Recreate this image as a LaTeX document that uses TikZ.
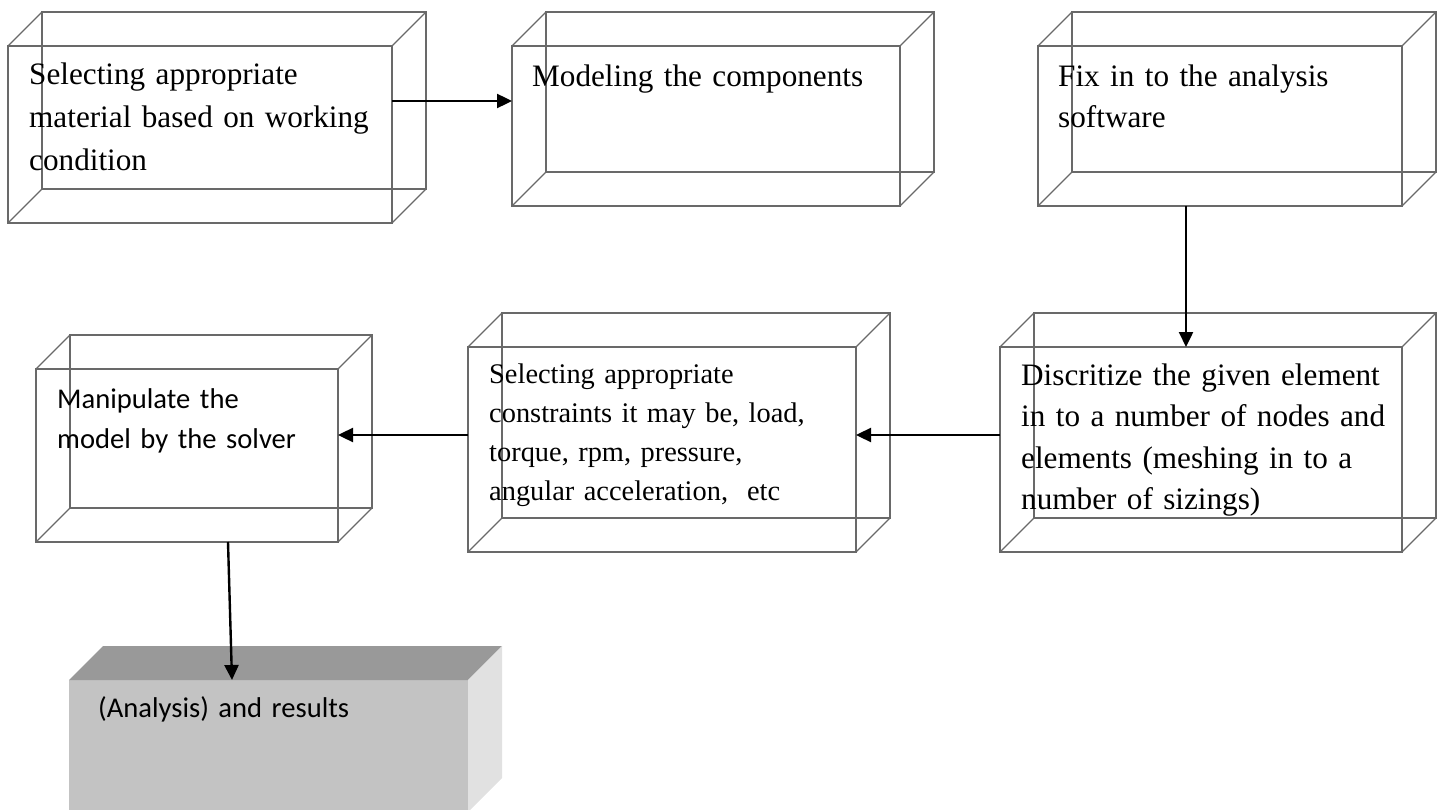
\documentclass[tikz,border=0pt]{standalone}
\usepackage{fontspec}
\setmainfont{Liberation Serif}
\newfontfamily\calibfont{Carlito}
\usetikzlibrary{positioning,arrows.meta}
\definecolor{edge}{RGB}{105,105,105}
\definecolor{resfront}{RGB}{195,195,195}
\definecolor{restop}{RGB}{153,153,153}
\definecolor{resside}{RGB}{225,225,225}

\begin{document}
\begin{tikzpicture}[x=1pt,y=-1pt,>={Triangle[length=15pt,width=14pt]},
  cube/.style={draw=edge,line width=1.2pt,anchor=north west,inner sep=0pt,outer sep=0pt},
  back/.style={draw=edge,line width=1.2pt},
  txt/.style={anchor=base west,inner sep=0pt,align=left,text width=#1},
  txt/.default=380pt,
  flow/.style={->,line width=2.4pt}]
  \useasboundingbox (0,0) rectangle (1442,810);
  % front faces
  \node[cube,minimum width=384pt,minimum height=177pt] (sel) at (8,46) {};
  \node[cube,minimum width=388pt,minimum height=160pt] (mod) at (512,46) {};
  \node[cube,minimum width=364pt,minimum height=160pt] (fix) at (1038,46) {};
  \node[cube,minimum width=402pt,minimum height=205pt] (dis) at (1000,347) {};
  \node[cube,minimum width=388pt,minimum height=205pt] (con) at (468,347) {};
  \node[cube,minimum width=302pt,minimum height=173pt] (man) at (36,369) {};
  % back faces and depth edges
  \foreach \b in {sel,mod,fix,dis,con,man}{
    \draw[back] ([shift={(34,-34)}]\b.north west) rectangle ([shift={(34,-34)}]\b.south east);
    \draw[back] (\b.north west) -- ++(34,-34) (\b.north east) -- ++(34,-34)
                (\b.south west) -- ++(34,-34) (\b.south east) -- ++(34,-34);
  }
  % shaded result box
  \node[anchor=north west,inner sep=0pt,outer sep=0pt,fill=resfront,minimum width=399pt,minimum height=132pt] (res) at (69,680) {};
  \fill[restop] (res.north west) -- ++(34,-34) -- ([shift={(34,-34)}]res.north east) -- (res.north east) -- cycle;
  \fill[resside] (res.north east) -- ++(34,-34) -- ([shift={(34,-34)}]res.south east) -- (res.south east) -- cycle;
  % texts
  \node[txt,font=\fontsize{31.2}{43}\selectfont] (selT) at (29,85) {Selecting appropriate\\material based on working\\condition};
  \node[txt,font=\fontsize{31.2}{43}\selectfont] (modT) at (532,87) {Modeling the components};
  \node[txt,font=\fontsize{31.2}{41}\selectfont] (fixT) at (1058,87) {Fix in to the analysis\\software};
  \node[txt,font=\fontsize{31.2}{41.5}\selectfont] (disT) at (1021,385) {Discritize the given element\\in to a number of nodes and\\elements (meshing in to a\\number of sizings)};
  \node[txt,font=\fontsize{28.4}{39}\selectfont] (conT) at (489,383) {Selecting appropriate\\constraints it may be, load,\\torque, rpm, pressure,\\angular acceleration,\ \ etc};
  \node[txt,font=\calibfont\fontsize{28.6}{40}\selectfont] (manT) at (57,408) {Manipulate the\\model by the solver};
  \node[txt,font=\calibfont\fontsize{28.6}{40}\selectfont] (resT) at (98,717) {(Analysis) and results};
  % connectors
  \draw[flow] ([yshift=33.5pt]sel.east) -- ([yshift=33.5pt]sel.east -| mod.west);
  \draw[flow] ([xshift=-34pt]fix.south) -- ([xshift=-34pt]fix.south |- dis.north);
  \draw[flow] ([yshift=14.5pt]dis.west) -- ([yshift=14.5pt]dis.west -| con.east);
  \draw[flow] ([yshift=14.5pt]con.west) -- ([yshift=14.5pt]con.west -| man.east);
  \draw[flow] ([xshift=41pt]man.south) -- ([xshift=-36.5pt]res.north);
\end{tikzpicture}
\end{document}
